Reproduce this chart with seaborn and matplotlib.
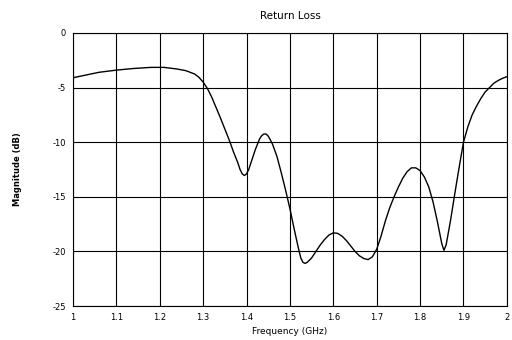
import numpy as np
import pandas as pd
import matplotlib
matplotlib.use("Agg")
import matplotlib.pyplot as plt
import seaborn as sns

# frequency (GHz) and return loss (dB)
freq = [1.00, 1.03, 1.06, 1.10, 1.14, 1.18, 1.21, 1.24, 1.26, 1.28, 1.29,
        1.30, 1.31, 1.32, 1.34, 1.36, 1.37, 1.38, 1.385, 1.39, 1.395, 1.40,
        1.405, 1.41, 1.42, 1.43, 1.435, 1.44, 1.445, 1.45, 1.455, 1.46, 1.47,
        1.48, 1.49, 1.50, 1.51, 1.52, 1.525, 1.53, 1.535, 1.54, 1.55, 1.56,
        1.57, 1.58, 1.59, 1.60, 1.61, 1.62, 1.63, 1.64, 1.65, 1.66, 1.67,
        1.68, 1.69, 1.70, 1.71, 1.72, 1.73, 1.74, 1.75, 1.76, 1.77, 1.78,
        1.79, 1.80, 1.81, 1.82, 1.83, 1.84, 1.85, 1.855, 1.86, 1.87, 1.88,
        1.89, 1.90, 1.91, 1.92, 1.93, 1.94, 1.95, 1.96, 1.97, 1.98, 1.99, 2.00]
mag = [-4.1, -3.85, -3.6, -3.4, -3.25, -3.15, -3.15, -3.3, -3.45, -3.75, -4.05,
       -4.5, -5.1, -5.9, -7.8, -9.8, -10.9, -11.9, -12.5, -12.9, -13.05, -12.9,
       -12.5, -11.9, -10.7, -9.7, -9.4, -9.25, -9.25, -9.45, -9.8, -10.2, -11.3,
       -12.8, -14.4, -16.1, -18.0, -19.8, -20.6, -21.0, -21.1, -21.0, -20.6, -20.0,
       -19.4, -18.9, -18.5, -18.3, -18.35, -18.6, -19.0, -19.5, -20.0, -20.4, -20.65,
       -20.75, -20.5, -19.8, -18.6, -17.2, -16.0, -15.0, -14.1, -13.3, -12.7, -12.35,
       -12.35, -12.6, -13.2, -14.1, -15.5, -17.3, -19.3, -19.9, -19.4, -17.2, -14.7,
       -12.3, -10.0, -8.6, -7.5, -6.7, -6.0, -5.4, -5.0, -4.6, -4.35, -4.15, -4.0]

xticks = [1.0, 1.1, 1.2, 1.3, 1.4, 1.5, 1.6, 1.7, 1.8, 1.9, 2.0]
xtick_labels = ["1", "1.1", "1.2", "1.3", "1.4", "1.5", "1.6", "1.7", "1.8", "1.9", "2"]
yticks = [0, -5, -10, -15, -20, -25]

df = pd.DataFrame({"freq": freq, "mag": mag})

sns.set_style("white", {"text.color": "black", "axes.labelcolor": "black",
                        "xtick.color": "black", "ytick.color": "black"})
plt.rcParams["font.family"] = ["DejaVu Sans"]
plt.rcParams["axes.unicode_minus"] = False

fig = plt.figure(figsize=(5.12, 3.4), dpi=100)
ax = fig.add_axes([0.1426, 0.1, 0.8474, 0.803])

sns.lineplot(data=df, x="freq", y="mag", color="black", linewidth=1.0, ax=ax)

ax.set_xlim(1.0, 2.0)
ax.set_ylim(-25, 0)
ax.set_xticks(xticks)
ax.set_xticklabels(xtick_labels)
ax.set_yticks(yticks)
ax.grid(True, color="black", linewidth=0.8)
ax.tick_params(length=0, labelsize=6, pad=5)
for s in ax.spines.values():
    s.set_color("black")
    s.set_linewidth(0.8)

ax.set_title("Return Loss", fontsize=7.5, pad=10, color="black")
ax.set_xlabel("Frequency (GHz)", fontsize=6.5, labelpad=4)
ax.set_ylabel("Magnitude (dB)", fontsize=6, fontweight="bold", labelpad=22)

fig.savefig("out.png", dpi=100)
